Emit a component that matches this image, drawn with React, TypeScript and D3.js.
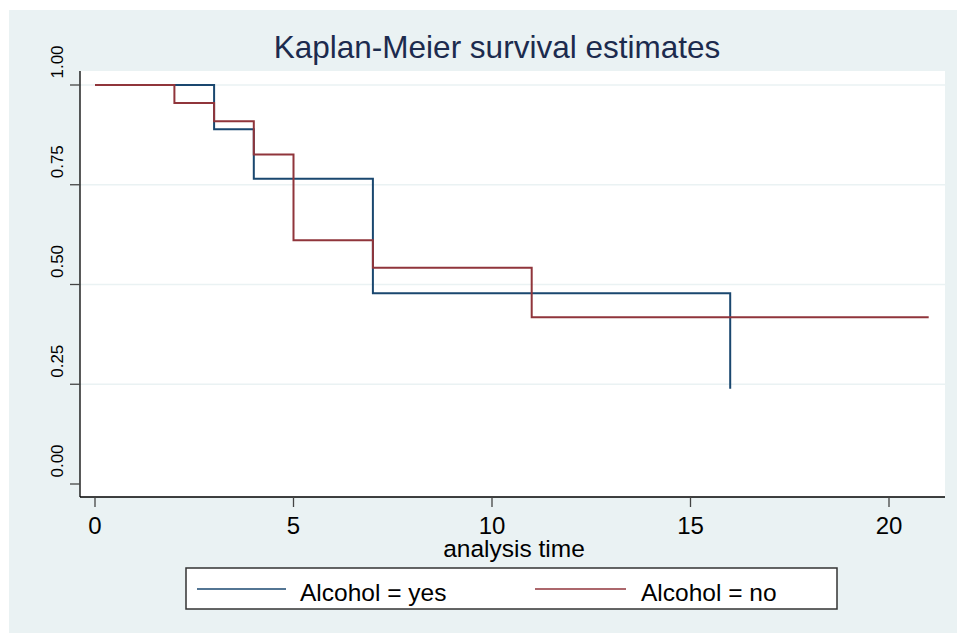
import * as d3 from "d3";

// Kaplan-Meier step points: time of event, survival after it
const yesTimes = [0, 3, 4, 7, 16];
const yesSurv = [1, 0.889, 0.765, 0.478, 0.239];
const noTimes = [0, 2, 3, 4, 5, 7, 11, 21];
const noSurv = [1, 0.955, 0.909, 0.826, 0.611, 0.542, 0.418, 0.418];

const xTicks = [0, 5, 10, 15, 20];
const yTicks = [0, 0.25, 0.5, 0.75, 1];
const gridTicks = [0.25, 0.5, 0.75, 1];

const SERIES = [
  { label: "Alcohol = yes", color: "#1a476f", times: yesTimes, surv: yesSurv },
  { label: "Alcohol = no", color: "#90353b", times: noTimes, surv: noSurv },
];

const W = 957;
const H = 633;
const FONT = "'Liberation Sans', Arial, Helvetica, sans-serif";
const BG = "#eaf2f3";

const plot = { left: 80, top: 71, right: 945, bottom: 497 };

export default function App() {
  const x = d3.scaleLinear().domain([0, 20]).range([95, 889]);
  const y = d3.scaleLinear().domain([0, 1]).range([484, 85]);

  const line = d3
    .line<[number, number]>()
    .x((d) => x(d[0]))
    .y((d) => y(d[1]))
    .curve(d3.curveStepAfter);

  const legendY = 589;
  const legendItems = [
    { x0: 197, x1: 286, tx: 300 },
    { x0: 535, x1: 626, tx: 641 },
  ];

  return (
    <svg
      width={W}
      height={H}
      style={{ position: "absolute", left: 0, top: 0, background: "#fff" }}
      fontFamily={FONT}
    >
      <rect x={9} y={10} width={W - 9} height={H - 10} fill={BG} />
      <rect
        x={plot.left}
        y={plot.top}
        width={plot.right - plot.left}
        height={plot.bottom - plot.top}
        fill="#fff"
      />

      {gridTicks.map((t) => (
        <line
          key={t}
          x1={plot.left}
          x2={plot.right}
          y1={y(t)}
          y2={y(t)}
          stroke={BG}
          strokeWidth={1.5}
        />
      ))}

      <text x={497} y={58} textAnchor="middle" fontSize={31.5} fill="#1c2b4e">
        Kaplan-Meier survival estimates
      </text>

      {/* y axis */}
      <line x1={plot.left} x2={plot.left} y1={plot.top} y2={plot.bottom} stroke="#000" strokeWidth={1.3} />
      {yTicks.map((t) => (
        <g key={t}>
          <line x1={70} x2={plot.left} y1={y(t)} y2={y(t)} stroke="#444" strokeWidth={1.3} />
          <text
            transform={`translate(63,${y(t) - 23}) rotate(-90)`}
            textAnchor="middle"
            fontSize={17}
            fill="#000"
          >
            {d3.format(".2f")(t)}
          </text>
        </g>
      ))}

      {/* x axis */}
      <line x1={plot.left} x2={plot.right} y1={plot.bottom} y2={plot.bottom} stroke="#000" strokeWidth={1.3} />
      {xTicks.map((t) => (
        <g key={t}>
          <line x1={x(t)} x2={x(t)} y1={plot.bottom} y2={507} stroke="#444" strokeWidth={1.3} />
          <text x={x(t)} y={534} textAnchor="middle" fontSize={24} fill="#000">
            {t}
          </text>
        </g>
      ))}
      <text x={514} y={557} textAnchor="middle" fontSize={24.5} fill="#000">
        analysis time
      </text>

      {SERIES.map((s) => (
        <path
          key={s.label}
          d={line(s.times.map((t, i) => [t, s.surv[i]] as [number, number])) ?? ""}
          fill="none"
          stroke={s.color}
          strokeWidth={2}
        />
      ))}

      {/* legend */}
      <rect x={186} y={568} width={651} height={41} fill="#fff" stroke="#333" strokeWidth={1.5} />
      {SERIES.map((s, i) => (
        <g key={s.label}>
          <line
            x1={legendItems[i].x0}
            x2={legendItems[i].x1}
            y1={legendY}
            y2={legendY}
            stroke={s.color}
            strokeWidth={1.5}
          />
          <text x={legendItems[i].tx} y={601} fontSize={24.5} fill="#000">
            {s.label}
          </text>
        </g>
      ))}
    </svg>
  );
}
